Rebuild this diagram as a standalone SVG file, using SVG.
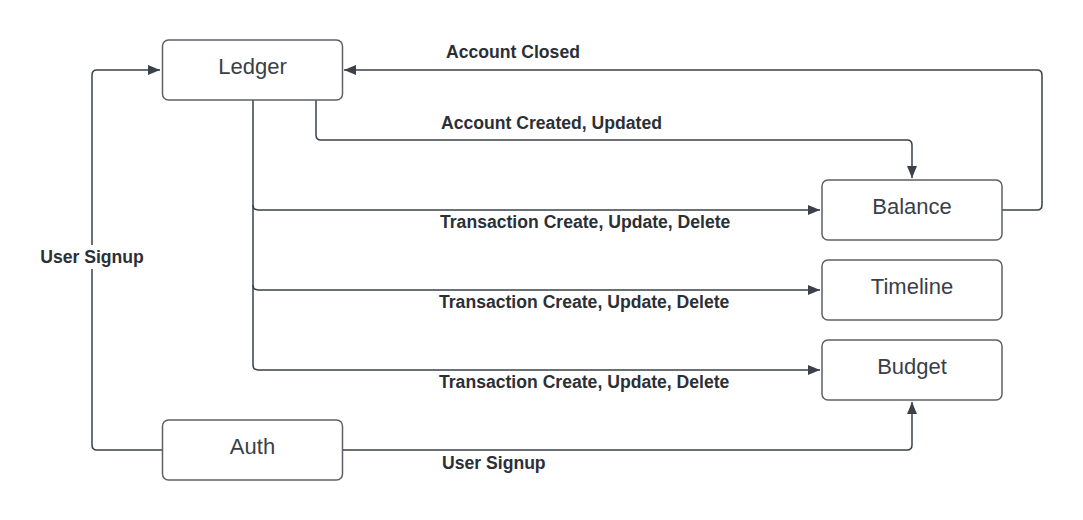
<svg xmlns="http://www.w3.org/2000/svg" width="1083" height="520" viewBox="0 0 1083 520">
<style>
.node rect{fill:#fff;stroke:#5e6068;stroke-width:1.5}
.node text{font-family:"Liberation Sans",Arial,sans-serif;font-size:22px;fill:#3a3e46;text-anchor:middle}
.edge{fill:none;stroke:#3a414a;stroke-width:1.5}
.lbl{font-family:"Liberation Sans",Arial,sans-serif;font-size:17.6px;font-weight:bold;fill:#2b2f36}
</style>
<defs>
<marker id="arr" viewBox="0 0 12 10" refX="12" refY="5" markerWidth="12" markerHeight="10" markerUnits="userSpaceOnUse" orient="auto">
<path d="M0,0 L12,5 L0,10 Z" fill="#3a414a"/>
</marker>
</defs>
<rect width="1083" height="520" fill="#fff"/>
<g id="connectors">
<path class="edge" d="M162,450 H97 Q92,450 92,445 V75 Q92,70 97,70 H160" marker-end="url(#arr)"/>
<path class="edge" d="M1002,210 H1037 Q1042,210 1042,205 V75 Q1042,70 1037,70 H344" marker-end="url(#arr)"/>
<path class="edge" d="M316,100 V135 Q316,140 321,140 H907 Q912,140 912,145 V178" marker-end="url(#arr)"/>
<path class="edge" d="M253,100 V205 Q253,210 258,210 H820" marker-end="url(#arr)"/>
<path class="edge" d="M253,205 V285 Q253,290 258,290 H820" marker-end="url(#arr)"/>
<path class="edge" d="M253,285 V365 Q253,370 258,370 H820" marker-end="url(#arr)"/>
<path class="edge" d="M342,450 H907 Q912,450 912,445 V402" marker-end="url(#arr)"/>
<rect x="36" y="245" width="112" height="24" fill="#fff"/>
<text class="lbl" x="92" y="263" text-anchor="middle">User Signup</text>
<text class="lbl" x="446" y="58">Account Closed</text>
<text class="lbl" x="441" y="129">Account Created, Updated</text>
<text class="lbl" x="440" y="228">Transaction Create, Update, Delete</text>
<text class="lbl" x="439" y="308">Transaction Create, Update, Delete</text>
<text class="lbl" x="439" y="388">Transaction Create, Update, Delete</text>
<text class="lbl" x="442" y="469">User Signup</text>
</g>
<g id="ledger" class="node"><rect x="162.5" y="40" width="180" height="60" rx="6"/><text x="252.5" y="74">Ledger</text></g>
<g id="auth" class="node"><rect x="162.5" y="420" width="180" height="60" rx="6"/><text x="252.5" y="454">Auth</text></g>
<g id="balance" class="node"><rect x="822" y="180" width="180" height="60" rx="6"/><text x="912" y="214">Balance</text></g>
<g id="timeline" class="node"><rect x="822" y="260" width="180" height="60" rx="6"/><text x="912" y="294">Timeline</text></g>
<g id="budget" class="node"><rect x="822" y="340" width="180" height="60" rx="6"/><text x="912" y="374">Budget</text></g>
</svg>
